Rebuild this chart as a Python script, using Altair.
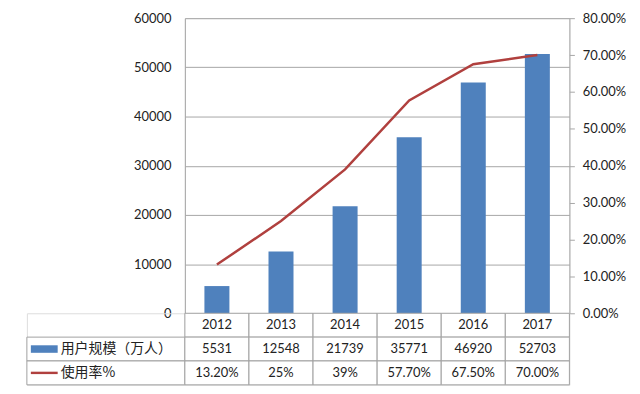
import altair as alt
import pandas as pd

# ---- data ----
years = ["2012", "2013", "2014", "2015", "2016", "2017"]
users = [5531, 12548, 21739, 35771, 46920, 52703]
rate = [0.132, 0.25, 0.39, 0.577, 0.675, 0.70]
rate_labels = ["13.20%", "25%", "39%", "57.70%", "67.50%", "70.00%"]
series_names = ["用户规模（万人）", "使用率%"]
left_ticks = [0, 10000, 20000, 30000, 40000, 50000, 60000]
right_ticks = [0, 0.1, 0.2, 0.3, 0.4, 0.5, 0.6, 0.7, 0.8]

FONT = "Lato, 'Noto Sans CJK SC', sans-serif"
CJK = "'Noto Sans CJK SC', sans-serif"
BAR = "#4F81BD"
LINE = "#B0403E"
GRID = "#A6A6A6"
BORDER = "#A0A0A0"
TXT = "#222222"

PW, PH = 387, 297   # plot area
HW = 159            # header column width
TH = 72             # table height

rows_order = ["year", "users", "rate"]

df = pd.DataFrame({"year": years, "users": users, "rate": rate})

xscale = alt.Scale(domain=years, paddingInner=0, paddingOuter=0)
yrow = alt.Y("row:N", scale=alt.Scale(domain=rows_order, paddingInner=0, paddingOuter=0), axis=None)

bars = alt.Chart(df).mark_bar(color=BAR, width=alt.RelativeBandSize(0.39)).encode(
    x=alt.X("year:N", scale=xscale, axis=None),
    y=alt.Y("users:Q", scale=alt.Scale(domain=[0, 60000], nice=False),
            axis=alt.Axis(values=left_ticks, format="d", title=None, orient="left",
                          ticks=False, labelPadding=14, grid=True, gridColor=GRID,
                          domainColor=GRID, labelFontSize=13, labelColor=TXT,
                          labelFont=FONT)),
)
line = alt.Chart(df).mark_line(color=LINE, strokeWidth=2.5).encode(
    x=alt.X("year:N", scale=xscale, axis=None),
    y=alt.Y("rate:Q", scale=alt.Scale(domain=[0, 0.8], nice=False),
            axis=alt.Axis(values=right_ticks, format=".2%", title=None, orient="right",
                          grid=False, ticks=True, tickSize=5, tickColor=GRID,
                          domainColor=GRID, labelPadding=8, labelFontSize=13,
                          labelColor=TXT, labelFont=FONT)),
)
top = alt.layer(bars, line).resolve_scale(y="independent").properties(width=PW, height=PH)

blank = alt.Chart(pd.DataFrame({"v": [0]})).mark_point(opacity=0).properties(width=HW, height=PH)

# ---- data table under the plot ----
recs = []
for i, y in enumerate(years):
    recs.append({"year": y, "row": "year", "text": y})
    recs.append({"year": y, "row": "users", "text": str(users[i])})
    recs.append({"year": y, "row": "rate", "text": rate_labels[i]})
tbl = pd.DataFrame(recs)

cells = alt.Chart(tbl).mark_rect(fill="white", stroke=BORDER, strokeWidth=1).encode(
    x=alt.X("year:N", scale=xscale, axis=None), y=yrow)
cell_txt = alt.Chart(tbl).mark_text(font=FONT, fontSize=13, color=TXT).encode(
    x=alt.X("year:N", scale=xscale, axis=None), y=yrow, text="text:N")
table = alt.layer(cells, cell_txt).properties(width=PW, height=TH)

hdr = pd.DataFrame({"row": ["users", "rate"], "name": series_names, "kind": ["bar", "line"]})
hcells = alt.Chart(hdr).mark_rect(fill="white", stroke=BORDER, strokeWidth=1).encode(y=yrow)
htxt = alt.Chart(hdr).mark_text(font=CJK, fontSize=14, color=TXT, align="left").encode(
    x=alt.value(34), y=yrow, text="name:N")
hbar = alt.Chart(hdr).transform_filter("datum.kind == 'bar'").mark_point(
    shape="M-1,-0.28H1V0.28H-1Z", filled=True, size=729, color=BAR, opacity=1, strokeWidth=0
).encode(x=alt.value(17.5), y=yrow)
hline = alt.Chart(hdr).transform_filter("datum.kind == 'line'").mark_point(
    shape="M-1,-0.09H1V0.09H-1Z", filled=True, size=729, color=LINE, opacity=1, strokeWidth=0
).encode(x=alt.value(17.5), y=yrow)
header = alt.layer(hcells, htxt, hbar, hline).properties(width=HW, height=TH)

chart = alt.concat(blank, top, header, table, columns=2, spacing=0, bounds="flush").properties(
    padding={"left": 18, "top": 2, "right": 5, "bottom": 5}
).configure_view(strokeWidth=0).configure(font=FONT)

chart.save("out.html", embed_options={"renderer": "svg", "actions": False})
